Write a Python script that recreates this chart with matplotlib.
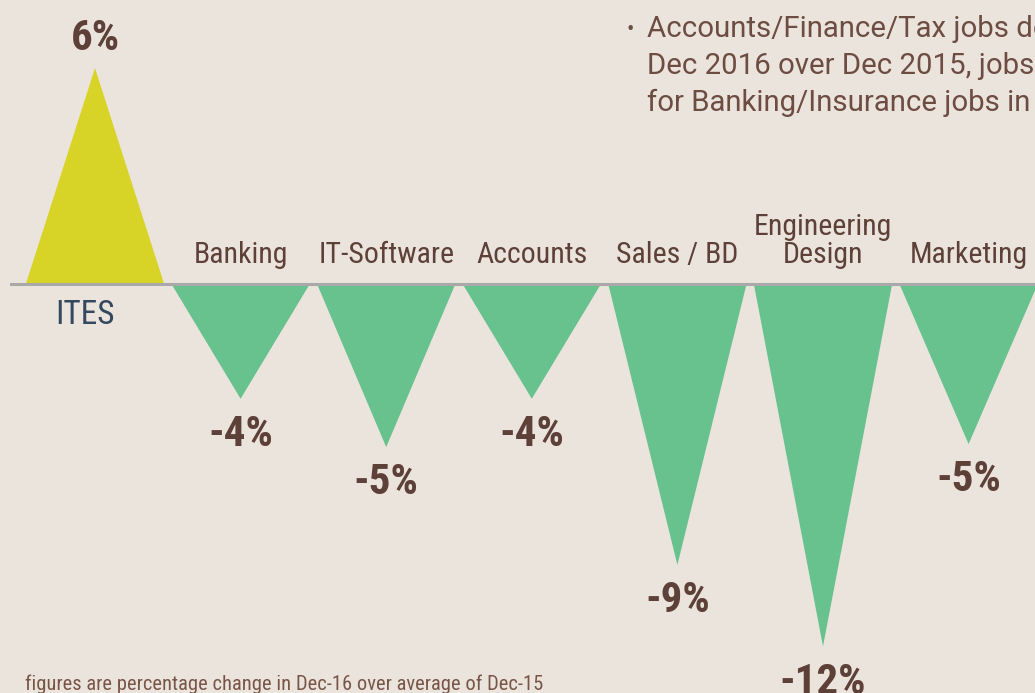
import matplotlib
matplotlib.use("Agg")
import matplotlib.pyplot as plt
from matplotlib import font_manager

# ---- data ----
categories = ["ITES", "Banking", "IT-Software", "Accounts", "Sales / BD",
              "Engineering\nDesign", "Marketing"]
values = [7.15, -3.8, -5.4, -3.8, -9.3, -12.0, -5.3]      # triangle heights (% scale)
value_labels = ["6%", "-4%", "-5%", "-4%", "-9%", "-12%", "-5%"]
note_lines = ["Accounts/Finance/Tax jobs declined",
              "Dec 2016 over Dec 2015, jobs",
              "for Banking/Insurance jobs in"]
footnote = "figures are percentage change in Dec-16 over average of Dec-15"

# ---- fonts ----
names = {f.name for f in font_manager.fontManager.ttflist}
cond = "Roboto"
for cand in ["Roboto Condensed", "Liberation Sans Narrow", "Open Sans Condensed"]:
    if cand in names:
        cond = cand
        break
reg = "Roboto" if "Roboto" in names else "DejaVu Sans"

BG = "#ebe4dc"
YEL = "#d8d327"
GRN = "#67c28d"
BROWN = "#5d4037"
BROWN2 = "#6d4c41"
BROWN3 = "#795548"
SLATE = "#34495e"

W, H = 1035, 693
fig = plt.figure(figsize=(W / 100, H / 100), dpi=100, facecolor=BG)
ax = fig.add_axes([0, 0, 1, 1])
ax.set_facecolor(BG)
ax.axis("off")

step = 145.6      # px between category centres
x0 = 95.0         # px of first centre
ppu = 30.2        # px per % unit
base_y = 284      # px from top
ax.set_xlim(-x0 / step, (W - x0) / step)
ax.set_ylim(-(H - base_y) / ppu, base_y / ppu)

hw = 0.475
for i, (v, lab, cat) in enumerate(zip(values, value_labels, categories)):
    color = YEL if v > 0 else GRN
    ax.fill([i - hw, i + hw, i], [0, 0, v], color=color, lw=0, zorder=2)
    if v > 0:
        ax.annotate(lab, (i, v), xytext=(0, 13), textcoords="offset points",
                    ha="center", va="baseline", fontsize=31, fontweight="bold",
                    family=cond, color=BROWN)
        ax.annotate(cat, (i, 0), xytext=(-7, -11), textcoords="offset points",
                    ha="center", va="top", fontsize=24, family=cond, color=SLATE)
    else:
        ax.annotate(lab, (i, v), xytext=(0, -11), textcoords="offset points",
                    ha="center", va="top", fontsize=31, fontweight="bold",
                    family=cond, color=BROWN)
        ax.annotate(cat, (i, 0), xytext=(0, 11), textcoords="offset points",
                    ha="center", va="bottom", fontsize=21.5, family=cond,
                    color=BROWN, linespacing=1.0, multialignment="center")

ax.axhline(0, xmin=11 / W, xmax=1, color="#a9a9a9", lw=2.2, zorder=3)

# bullet note (runs off the right edge as in the original)
fig.text(627 / W, 1 - 30 / H, "\u2022", fontsize=16, family=reg, color=BROWN2,
         ha="left", va="center")
for k, line in enumerate(note_lines):
    fig.text(647 / W, 1 - (37 + 37 * k) / H, line, fontsize=21.2, family=reg,
             color=BROWN2, ha="left", va="baseline")

fig.text(25 / W, 1 - 690 / H, footnote, fontsize=14.8, family=cond, color=BROWN3,
         ha="left", va="baseline")

fig.savefig("out.png", dpi=100, facecolor=BG)
